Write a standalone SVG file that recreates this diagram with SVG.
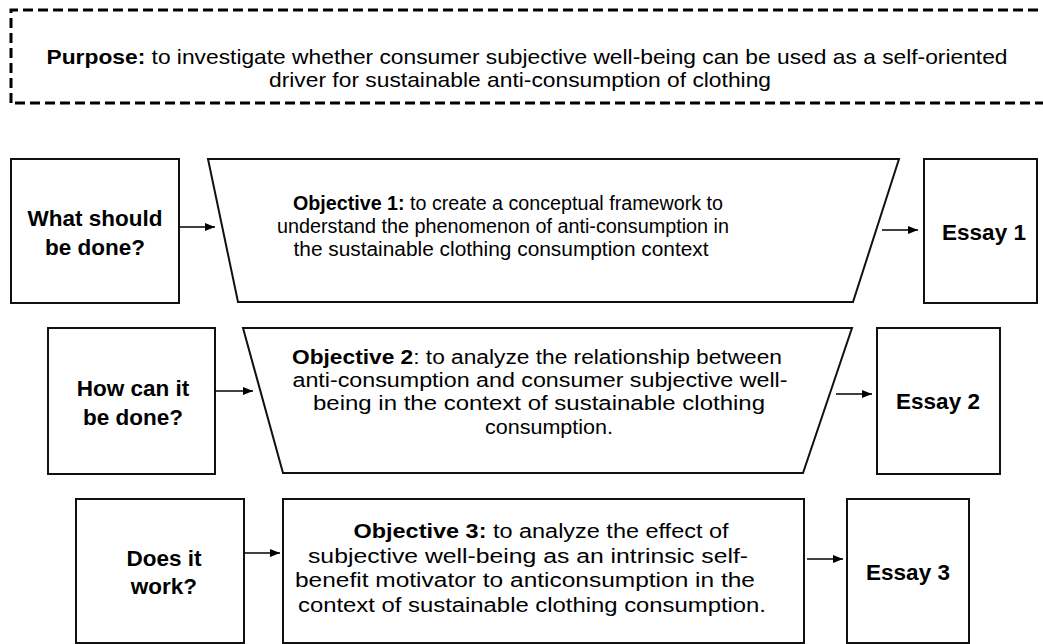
<svg xmlns="http://www.w3.org/2000/svg" width="1043" height="644" viewBox="0 0 1043 644">
<defs>
<marker id="ah" viewBox="0 0 10 10" refX="10" refY="5" markerWidth="10" markerHeight="10" markerUnits="userSpaceOnUse" orient="auto">
<path d="M0,1 L10,5 L0,9 Z" fill="#000"/>
</marker>
<style>
.box{fill:#fff;stroke:#111;stroke-width:2}
.dash{fill:none;stroke:#000;stroke-width:3;stroke-dasharray:10 5}
.lbl{font-family:"Liberation Sans",Arial,sans-serif;font-weight:bold;font-size:22.5px;fill:#000;text-anchor:middle}
.t1{font-family:"Liberation Sans",Arial,sans-serif;font-size:19.5px;fill:#000;text-anchor:middle}
.txt{font-family:"Liberation Sans",Arial,sans-serif;font-size:20px;fill:#000;text-anchor:middle}
.pur{font-family:"Liberation Sans",Arial,sans-serif;font-size:21px;fill:#000;text-anchor:middle}
.b{font-weight:bold}
.con{stroke:#000;stroke-width:1.3;fill:none;marker-end:url(#ah)}
</style>
</defs>
<g id="purpose">
<path class="dash" d="M11,103 L11,10 L1050,10 L1050,103 Z"/>
<text class="pur" x="527" y="64" textLength="961" lengthAdjust="spacingAndGlyphs"><tspan class="b">Purpose:</tspan> to investigate whether consumer subjective well-being can be used as a self-oriented</text>
<text class="pur" x="520" y="87" textLength="502" lengthAdjust="spacingAndGlyphs">driver for sustainable anti-consumption of clothing</text>
</g>
<g id="q1">
<rect class="box" x="11" y="159" width="168" height="144"/>
<text class="lbl" x="95" y="226">What should</text>
<text class="lbl" x="95" y="255">be done?</text>
</g>
<g id="obj1">
<path class="box" d="M208,159 L899,159 L853,302 L238,302 Z"/>
<text class="t1" x="508" y="210" textLength="430" lengthAdjust="spacingAndGlyphs"><tspan class="b">Objective 1:</tspan> to create a conceptual framework to</text>
<text class="t1" x="503" y="233" textLength="452" lengthAdjust="spacingAndGlyphs">understand the phenomenon of anti-consumption in</text>
<text class="t1" x="501" y="256" textLength="415" lengthAdjust="spacingAndGlyphs">the sustainable clothing consumption context</text>
</g>
<g id="essay1">
<rect class="box" x="924" y="159" width="113" height="144"/>
<text class="lbl" x="984" y="240">Essay 1</text>
</g>
<g id="q2">
<rect class="box" x="48" y="328" width="167" height="146"/>
<text class="lbl" x="133" y="396">How can it</text>
<text class="lbl" x="133" y="425">be done?</text>
</g>
<g id="obj2">
<path class="box" d="M243,328 L852,328 L803,473 L283,473 Z"/>
<text class="txt" x="537" y="364" textLength="490" lengthAdjust="spacingAndGlyphs"><tspan class="b">Objective 2</tspan>: to analyze the relationship between</text>
<text class="txt" x="540" y="387" textLength="495" lengthAdjust="spacingAndGlyphs">anti-consumption and consumer subjective well-</text>
<text class="txt" x="539" y="410" textLength="452" lengthAdjust="spacingAndGlyphs">being in the context of sustainable clothing</text>
<text class="txt" x="549" y="434" textLength="128" lengthAdjust="spacingAndGlyphs">consumption.</text>
</g>
<g id="essay2">
<rect class="box" x="877" y="328" width="123" height="146"/>
<text class="lbl" x="938" y="409">Essay 2</text>
</g>
<g id="q3">
<rect class="box" x="76" y="499" width="168" height="144"/>
<text class="lbl" x="164" y="566">Does it</text>
<text class="lbl" x="164" y="594">work?</text>
</g>
<g id="obj3">
<rect class="box" x="283" y="499" width="521" height="144"/>
<text class="txt" x="541" y="538" textLength="375" lengthAdjust="spacingAndGlyphs"><tspan class="b">Objective 3:</tspan> to analyze the effect of</text>
<text class="txt" x="528" y="563" textLength="440" lengthAdjust="spacingAndGlyphs">subjective well-being as an intrinsic self-</text>
<text class="txt" x="525" y="587" textLength="460" lengthAdjust="spacingAndGlyphs">benefit motivator to anticonsumption in the</text>
<text class="txt" x="532" y="612" textLength="468" lengthAdjust="spacingAndGlyphs">context of sustainable clothing consumption.</text>
</g>
<g id="essay3">
<rect class="box" x="847" y="499" width="122" height="144"/>
<text class="lbl" x="908" y="580">Essay 3</text>
</g>
<g id="connectors">
<line class="con" x1="179" y1="227" x2="215" y2="227"/>
<line class="con" x1="882" y1="230" x2="918" y2="230"/>
<line class="con" x1="215" y1="391" x2="253" y2="391"/>
<line class="con" x1="836" y1="394" x2="872" y2="394"/>
<line class="con" x1="244" y1="553" x2="280" y2="553"/>
<line class="con" x1="807" y1="559" x2="843" y2="559"/>
</g>
</svg>
